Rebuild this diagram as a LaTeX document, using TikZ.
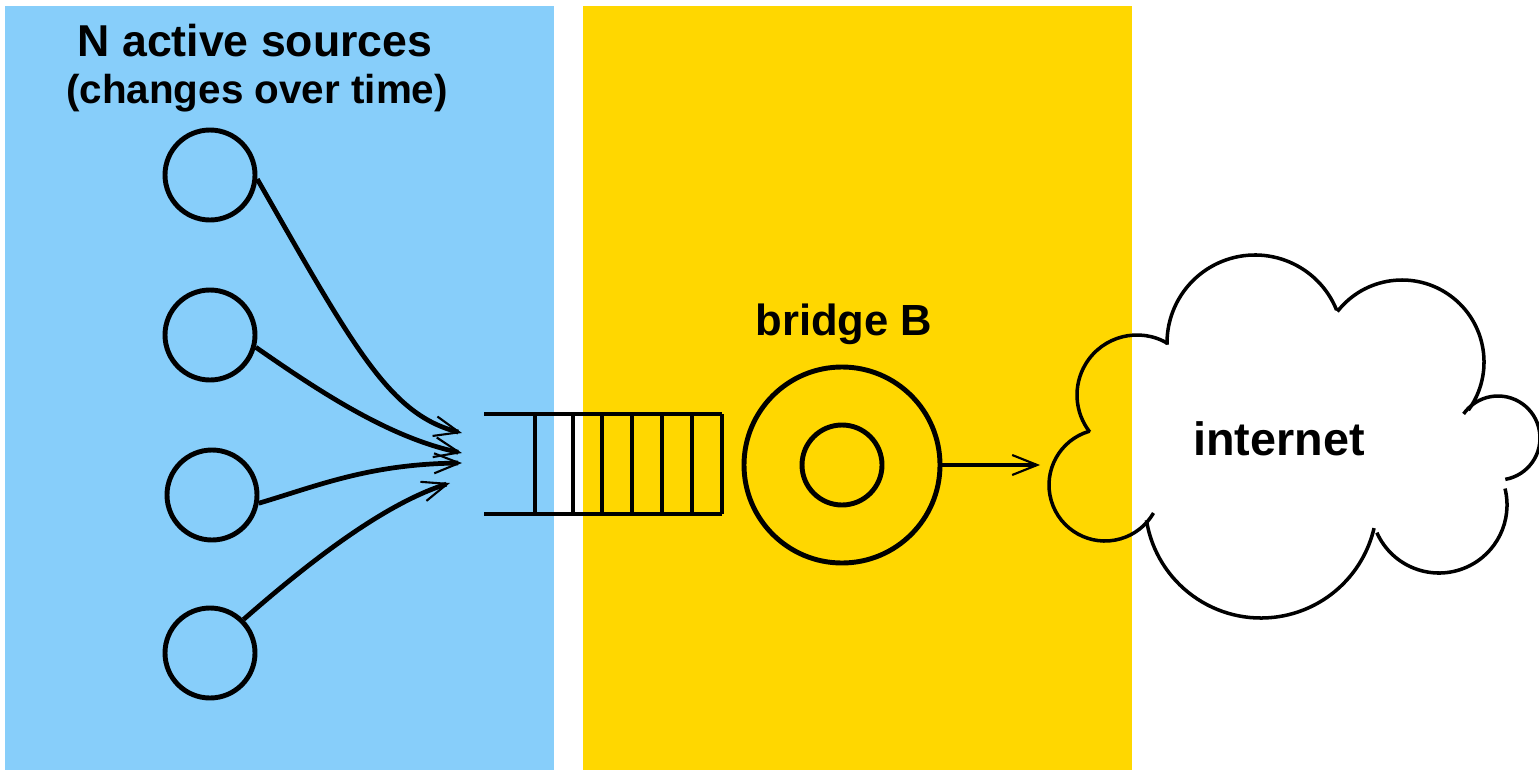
\documentclass[tikz,border=0pt]{standalone}
\usepackage{fontspec}
\setmainfont{Liberation Sans}
\usepackage{tikz}
\usetikzlibrary{shapes,arrows.meta}
\definecolor{srcblue}{RGB}{135,206,250}
\definecolor{bridgegold}{RGB}{255,215,0}
\tikzset{src/.style={circle,draw,line width=1.4pt,minimum size=0.9cm,inner sep=0pt},
  ring/.style={circle,draw,line width=1.4pt,inner sep=0pt},
  heavy/.style={line width=1.35pt},
  cloudline/.style={line width=1pt},
  lbl/.style={anchor=base,inner sep=0pt,font=\bfseries}}

\begin{document}
\begin{tikzpicture}[>={Straight Barb[length=2.5mm,width=2mm,line width=0.6pt]}]
    \useasboundingbox (0,0) rectangle (15.39,7.70);
    \fill[srcblue] (0.05,0) rectangle (5.54,7.64);
    \fill[bridgegold] (5.83,0) rectangle (11.32,7.64);

    \node[lbl,font=\bfseries\fontsize{12.7}{15}\selectfont] (title) at (2.55,7.13) {N active sources};
    \node[lbl,font=\bfseries\fontsize{11.5}{14}\selectfont] (subtitle) at (2.57,6.66) {(changes over time)};

    \node[src] (s1) at (2.10,5.95) {};
    \node[src] (s2) at (2.10,4.35) {};
    \node[src] (s3) at (2.12,2.75) {};
    \node[src] (s4) at (2.10,1.17) {};

    \coordinate (q1) at (4.62,3.37);
    \coordinate (q2) at (4.62,3.17);
    \coordinate (q3) at (4.62,3.07);
    \coordinate (q4) at (4.50,2.87);

    \draw [->,heavy] (s1.-5) .. controls (3.55,4.20) and (3.90,3.55) .. (q1);
    \draw [->,heavy] (s2.-15) .. controls (3.20,3.78) and (3.90,3.32) .. (q2);
    \draw [->,heavy] (s3.-10) .. controls (3.20,2.85) and (3.70,3.06) .. (q3);
    \draw [->,heavy] (s4.45) .. controls (3.00,2.00) and (3.80,2.65) .. (q4);

    % queue
    \draw [heavy] (4.84,3.56) -- (7.22,3.56);
    \draw [heavy] (4.84,2.56) -- (7.22,2.56);
    \foreach \x in {5.35,5.73,6.02,6.32,6.62,6.92,7.22}
        \draw [heavy] (\x,3.56) -- (\x,2.56);

    \node[ring,minimum size=1.96cm] (bridge) at (8.42,3.05) {};
    \node[ring,minimum size=0.80cm] (core) at (8.42,3.05) {};
    \node[lbl,font=\bfseries\fontsize{12.4}{15}\selectfont] (bridgelbl) at (8.44,4.35) {bridge B};

    % cloud
    \foreach \cx/\cy/\r/\a/\b in {11.37/3.75/0.60/59/218, 11.05/2.85/0.56/106/330,
        12.61/2.68/1.16/189/347, 14.39/2.65/0.68/204/374, 14.98/3.32/0.42/280/505,
        14.02/4.08/0.82/324/502, 12.55/4.27/0.88/22/181}
        \draw [cloudline] (\cx,\cy) ++(\a:\r) arc[start angle=\a,end angle=\b,radius=\r];
    \node[lbl,font=\bfseries\fontsize{13.3}{16}\selectfont] (net) at (12.79,3.15) {internet};
    \coordinate (netin) at (10.40,3.05);

    \draw [->,heavy] (bridge.east) -- (netin);
\end{tikzpicture}
\end{document}
